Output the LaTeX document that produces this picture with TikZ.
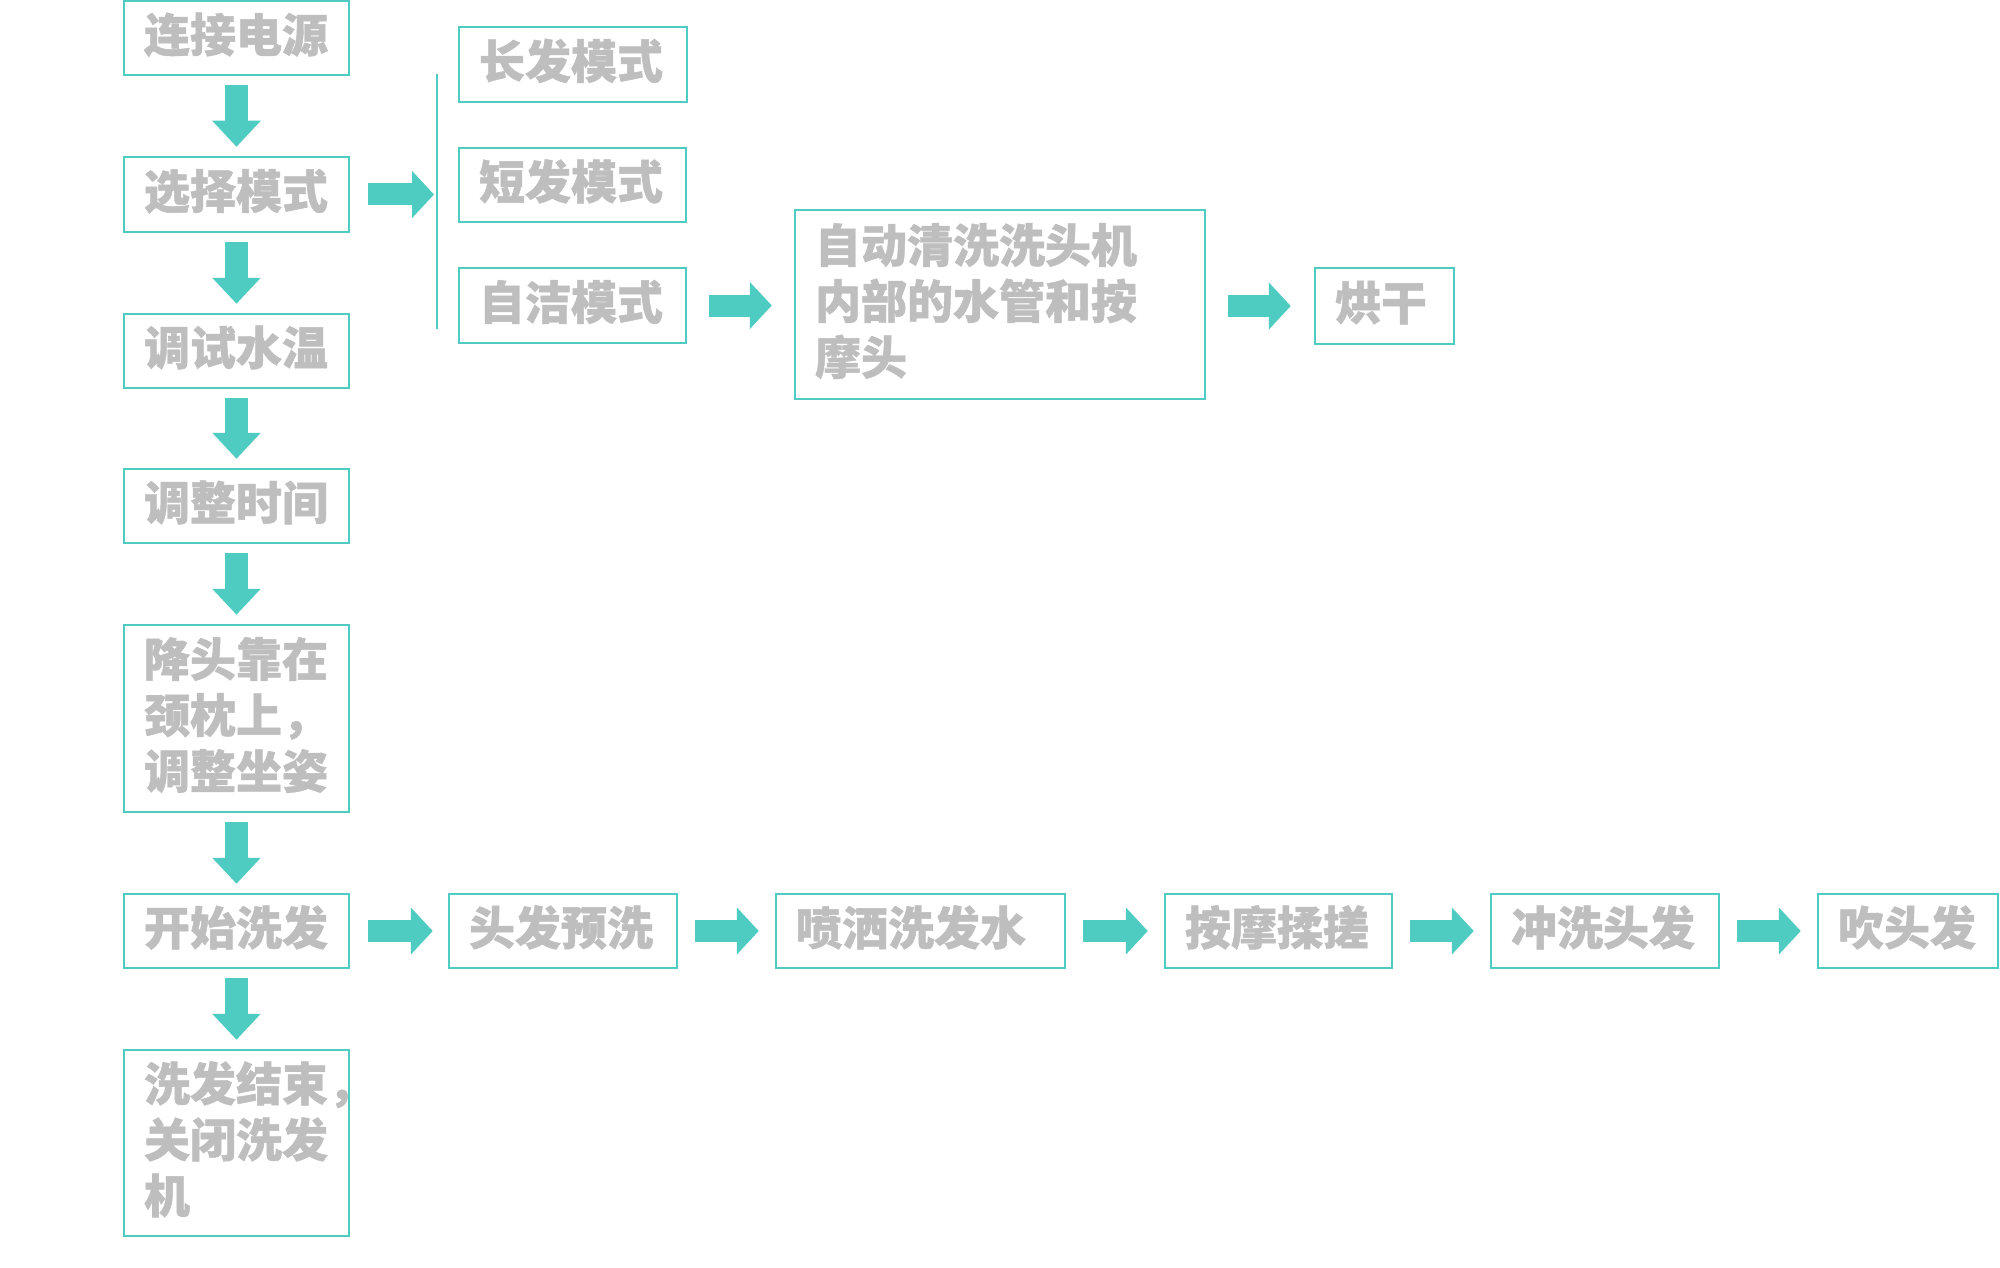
\documentclass[tikz,border=0pt]{standalone}
\usepackage{fontspec}
\newfontfamily\cjk{Noto Sans CJK SC}[BoldFeatures={FakeBold=1}]
\usetikzlibrary{arrows.meta}
\definecolor{tealc}{RGB}{78,204,193}
\definecolor{txtc}{RGB}{190,190,190}
\newcommand\topst{\rule{0pt}{44pt}}
\newcommand\botst{\rule[-16pt]{0pt}{16pt}}
\begin{document}
\begin{tikzpicture}[x=1pt,y=-1pt,
  box/.style={draw=tealc, line width=2.5pt, inner xsep=20pt, inner ysep=0pt, align=left,
    font=\cjk\bfseries\fontsize{46}{56}\selectfont, text=txtc},
  downarr/.style={draw=tealc, line width=23pt, -{Triangle[width=47pt,length=26pt]}, shorten <=9pt, shorten >=9pt},
  rarr/.style={draw=tealc, line width=22pt, -{Triangle[width=46pt,length=22pt]}, shorten <=17pt, shorten >=16pt},
  vline/.style={draw=tealc, line width=2pt}]
\fill[white] (0,0) rectangle (2000,1268);
\useasboundingbox (0,0) rectangle (2000,1268);
% left column
\node[box, minimum width=225pt, minimum height=74pt, text width=185pt] (A) at (236.5,38) {\topst 连接电源\botst};
\node[box, minimum width=225pt, minimum height=75pt, text width=185pt] (B) at (236.5,194.5) {\topst 选择模式\botst};
\node[box, minimum width=225pt, minimum height=74pt, text width=185pt] (C) at (236.5,351) {\topst 调试水温\botst};
\node[box, minimum width=225pt, minimum height=74pt, text width=185pt] (D) at (236.5,506) {\topst 调整时间\botst};
\node[box, minimum width=225pt, minimum height=187pt, text width=185pt] (E) at (236.5,718.5) {\topst 降头靠在\\颈枕上，\\调整坐姿\botst};
\node[box, minimum width=225pt, minimum height=74pt, text width=185pt] (F) at (236.5,931) {\topst 开始洗发\botst};
\node[box, minimum width=225pt, minimum height=186pt, text width=185pt] (G) at (236.5,1143) {\topst 洗发结束，\\关闭洗发\\机\botst};
% modes
\node[box, minimum width=228pt, minimum height=75pt, text width=188pt] (M1) at (573,64.5) {\topst 长发模式\botst};
\node[box, minimum width=227pt, minimum height=74pt, text width=187pt] (M2) at (572.5,185) {\topst 短发模式\botst};
\node[box, minimum width=227pt, minimum height=75pt, text width=187pt] (M3) at (572.5,305.5) {\topst 自洁模式\botst};
\node[box, minimum width=410pt, minimum height=189pt, text width=370pt] (S) at (1000,304.5) {\topst 自动清洗洗头机\\内部的水管和按\\摩头\botst};
\node[box, minimum width=139pt, minimum height=76pt, text width=99pt] (H) at (1384.5,306) {\topst 烘干\botst};
% bottom row
\node[box, minimum width=228pt, minimum height=74pt, text width=188pt] (R1) at (563,931) {\topst 头发预洗\botst};
\node[box, minimum width=289pt, minimum height=74pt, text width=249pt] (R2) at (920.5,931) {\topst 喷洒洗发水\botst};
\node[box, minimum width=227pt, minimum height=74pt, text width=187pt] (R3) at (1278.5,931) {\topst 按摩揉搓\botst};
\node[box, minimum width=228pt, minimum height=74pt, text width=188pt] (R4) at (1605,931) {\topst 冲洗头发\botst};
\node[box, minimum width=180pt, minimum height=74pt, text width=140pt] (R5) at (1908,931) {\topst 吹头发\botst};
% bracket line
\coordinate (vtop) at (437,74);
\coordinate (vbot) at (437,329);
\coordinate (vl) at (437,194.5);
\draw[vline] (vtop) -- (vbot);
% down arrows
\draw[downarr] (A) -- (B);
\draw[downarr] (B) -- (C);
\draw[downarr] (C) -- (D);
\draw[downarr] (D) -- (E);
\draw[downarr] (E) -- (F);
\draw[downarr] (F) -- (G);
% right arrows
\draw[rarr, shorten <=18pt, shorten >=3pt] (B.east) -- (vl);
\draw[rarr, shorten <=22pt, shorten >=22pt] (M3.east) -- (M3.east -| S.west);
\draw[rarr, shorten <=22pt, shorten >=23pt] (S.east |- H.west) -- (H.west);
\draw[rarr, shorten <=18pt, shorten >=15pt] (F) -- (R1);
\draw[rarr] (R1) -- (R2);
\draw[rarr] (R2) -- (R3);
\draw[rarr] (R3) -- (R4);
\draw[rarr] (R4) -- (R5);
\end{tikzpicture}
\end{document}
